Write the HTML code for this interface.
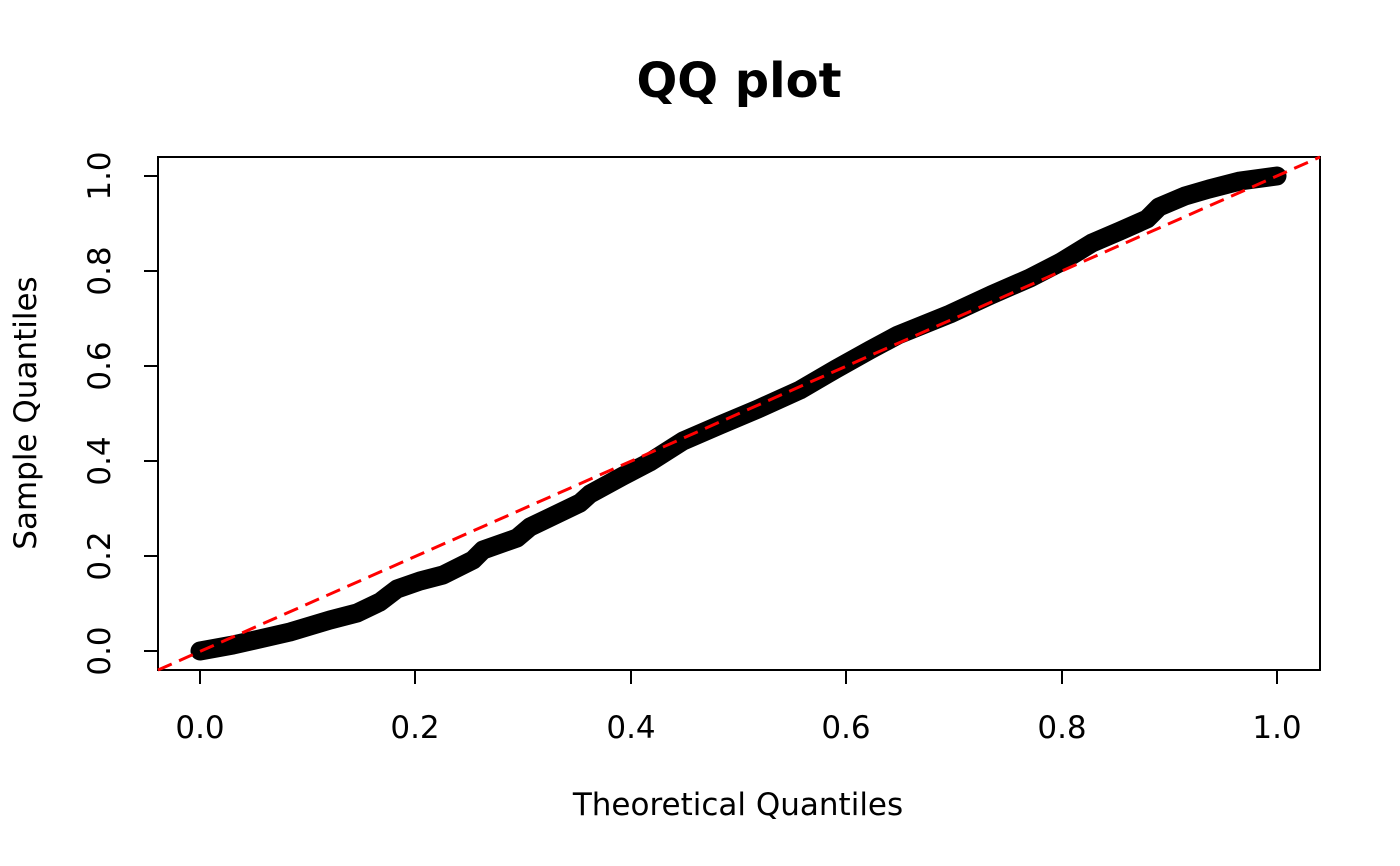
<!DOCTYPE html>
<html><head><meta charset="utf-8"><style>html,body{margin:0;padding:0;background:#fff}svg{display:block}</style></head>
<body>
<svg width="1400" height="866" xmlns="http://www.w3.org/2000/svg" font-family="'DejaVu Sans','Liberation Sans',sans-serif">
<text x="739" y="97" text-anchor="middle" font-size="48" font-weight="bold">QQ plot</text>
<rect x="158" y="157" width="1162" height="513" fill="none" stroke="#000" stroke-width="2"/>
<g stroke="#000" stroke-width="2">
<line x1="200" y1="670" x2="1277" y2="670"/>
<line x1="200" y1="670" x2="200" y2="684"/><line x1="415" y1="670" x2="415" y2="684"/><line x1="631" y1="670" x2="631" y2="684"/><line x1="846" y1="670" x2="846" y2="684"/><line x1="1062" y1="670" x2="1062" y2="684"/><line x1="1277" y1="670" x2="1277" y2="684"/>
<line x1="158" y1="651" x2="158" y2="176"/>
<line x1="158" y1="651" x2="144" y2="651"/><line x1="158" y1="556" x2="144" y2="556"/><line x1="158" y1="461" x2="144" y2="461"/><line x1="158" y1="366" x2="144" y2="366"/><line x1="158" y1="271" x2="144" y2="271"/><line x1="158" y1="176" x2="144" y2="176"/>
</g>
<g font-size="31" text-anchor="middle">
<text x="200" y="738">0.0</text><text x="415" y="738">0.2</text><text x="631" y="738">0.4</text><text x="846" y="738">0.6</text><text x="1062" y="738">0.8</text><text x="1277" y="738">1.0</text>
<text transform="translate(110,651) rotate(-90)">0.0</text>
<text transform="translate(110,556) rotate(-90)">0.2</text>
<text transform="translate(110,461) rotate(-90)">0.4</text>
<text transform="translate(110,366) rotate(-90)">0.6</text>
<text transform="translate(110,271) rotate(-90)">0.8</text>
<text transform="translate(110,176) rotate(-90)">1.0</text>
<text x="738" y="815">Theoretical Quantiles</text>
<text transform="translate(36,413) rotate(-90)">Sample Quantiles</text>
</g>
<polyline fill="none" stroke="#000" stroke-width="19" stroke-linecap="round" stroke-linejoin="round"
points="200,651 233,645 290,632 330,620 357,613 380,602 397,589 420,581 443,575 473,560 483,550 517,538 530,527 580,503 590,494 623,476 650,462 683,441 720,425 758,409 800,390 836,369 870,350 898,335 950,314 991,295 1030,278 1061,262 1092,243 1120,231 1147,219 1159,207 1185,196 1209,189 1240,181 1277,176"/>
<line x1="158" y1="670" x2="1320" y2="157" stroke="#f00" stroke-width="3" stroke-dasharray="15,8"/>
</svg>
</body></html>
